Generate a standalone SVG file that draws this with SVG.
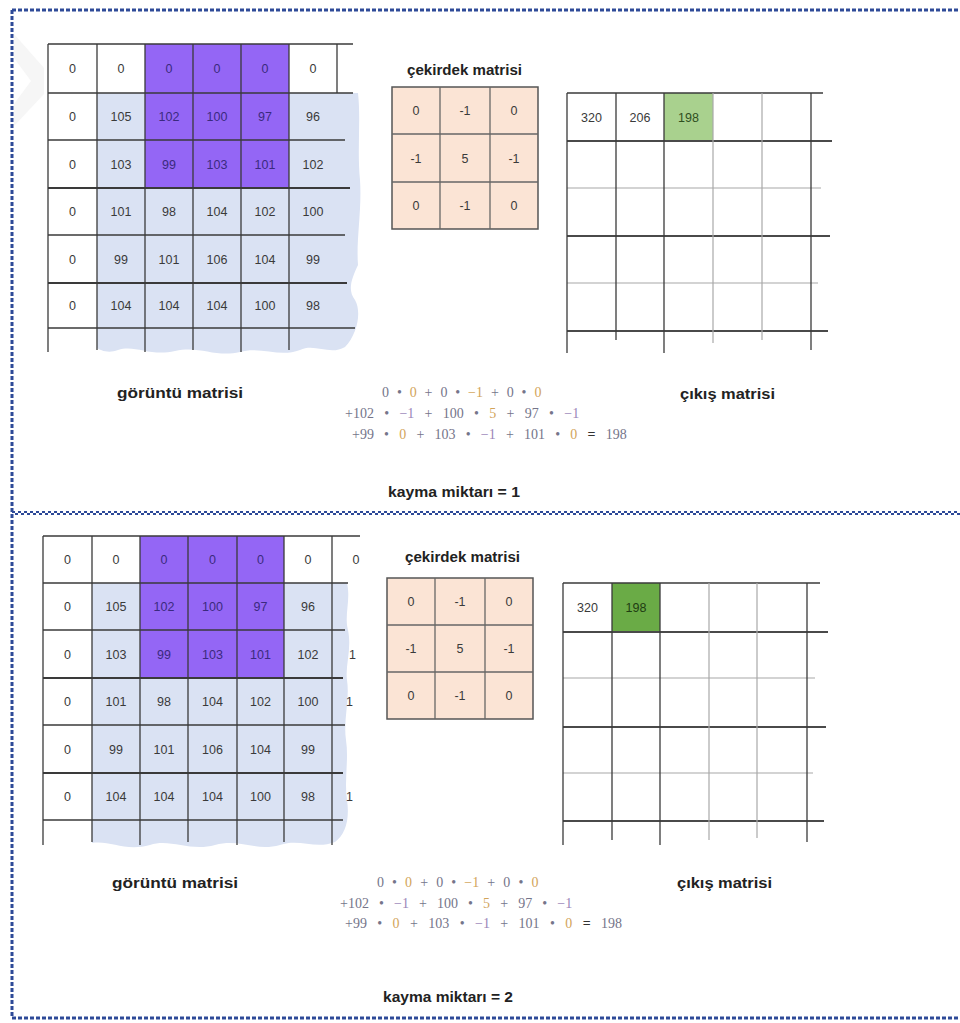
<svg xmlns="http://www.w3.org/2000/svg" width="960" height="1023" viewBox="0 0 960 1023">
<style>
.n{font-family:"Liberation Sans",Arial,sans-serif;font-size:12.5px;fill:#3a3a3a;text-anchor:middle}
.np{font-family:"Liberation Sans",Arial,sans-serif;font-size:12.5px;fill:#3b2a7e;text-anchor:middle}
.lbl{font-family:"Liberation Sans",Arial,sans-serif;font-size:14px;font-weight:bold;fill:#222}
.f{font-family:"Liberation Serif","Times New Roman",serif;font-size:14px;fill:#75758a}
.k{fill:#d2a45a}
.m{fill:#9a86b8}
.eq{fill:#333;font-weight:bold}
.g{stroke:#3a3a3a;stroke-width:1.3;fill:none}
.gl{stroke:#a8a8a8;stroke-width:1.2;fill:none}
.gt{stroke:#4a4a4a;stroke-width:2;fill:none}
.dot{stroke:#2e4a98;stroke-width:3;stroke-dasharray:4 2;fill:none}
.dw{stroke:#2e4a98;stroke-width:2;stroke-dasharray:3 3;fill:none}
</style>
<defs>
<clipPath id="cl"><rect x="330" y="500" width="26" height="400"/></clipPath>
</defs>
<rect width="960" height="1023" fill="#fff"/>
<polygon points="14,34 44,68 44,94 14,126 14,104 31,81 14,58" fill="#f6f6f6"/>

<!-- borders -->
<g id="border">
<line class="dot" x1="12" y1="10" x2="960" y2="10"/>
<line class="dot" x1="12" y1="10" x2="12" y2="1018"/>
<line class="dot" x1="12" y1="1018" x2="960" y2="1018"/>
<line class="dw" x1="12" y1="512" x2="960" y2="512"/>
<line class="dw" x1="15" y1="514" x2="960" y2="514"/>
</g>

<!-- TOP PANEL -->
<g id="image-matrix-1">
<path d="M97,93 H358 C361,120 357,150 360,180 C362,210 356,240 358,265 C352,278 347,290 355,300 C362,312 357,335 345,347 C330,356 315,343 300,350 C280,358 260,346 240,352 C215,358 200,345 175,351 C150,357 135,344 118,350 C108,354 100,350 97,348 Z" fill="#dae2f3"/>
<rect x="145" y="44" width="144" height="144" fill="#9466f5"/>
<g class="g">
<line x1="48" y1="44" x2="353" y2="44"/>
<line x1="48" y1="93" x2="353" y2="93"/>
<line x1="48" y1="140" x2="345" y2="140"/>
<line x1="48" y1="188" x2="350" y2="188" style="stroke-width:1.8"/>
<line x1="48" y1="235" x2="345" y2="235"/>
<line x1="48" y1="283" x2="347" y2="283" style="stroke-width:1.8"/>
<line x1="48" y1="328" x2="355" y2="328"/>
<line x1="48" y1="44" x2="48" y2="352"/>
<line x1="97" y1="44" x2="97" y2="350"/>
<line x1="145" y1="44" x2="145" y2="352"/>
<line x1="193" y1="44" x2="193" y2="350"/>
<line x1="241" y1="44" x2="241" y2="352"/>
<line x1="289" y1="44" x2="289" y2="350"/>
<line x1="337" y1="44" x2="337" y2="93"/>
</g>
<g>
<text class="n" x="72.5" y="73">0</text><text class="n" x="121" y="73">0</text><text class="np" x="169" y="73">0</text><text class="np" x="217" y="73">0</text><text class="np" x="265" y="73">0</text><text class="n" x="313" y="73">0</text>
<text class="n" x="72.5" y="121">0</text><text class="n" x="121" y="121">105</text><text class="np" x="169" y="121">102</text><text class="np" x="217" y="121">100</text><text class="np" x="265" y="121">97</text><text class="n" x="313" y="121">96</text>
<text class="n" x="72.5" y="168.5">0</text><text class="n" x="121" y="168.5">103</text><text class="np" x="169" y="168.5">99</text><text class="np" x="217" y="168.5">103</text><text class="np" x="265" y="168.5">101</text><text class="n" x="313" y="168.5">102</text>
<text class="n" x="72.5" y="216">0</text><text class="n" x="121" y="216">101</text><text class="n" x="169" y="216">98</text><text class="n" x="217" y="216">104</text><text class="n" x="265" y="216">102</text><text class="n" x="313" y="216">100</text>
<text class="n" x="72.5" y="263.5">0</text><text class="n" x="121" y="263.5">99</text><text class="n" x="169" y="263.5">101</text><text class="n" x="217" y="263.5">106</text><text class="n" x="265" y="263.5">104</text><text class="n" x="313" y="263.5">99</text>
<text class="n" x="72.5" y="310">0</text><text class="n" x="121" y="310">104</text><text class="n" x="169" y="310">104</text><text class="n" x="217" y="310">104</text><text class="n" x="265" y="310">100</text><text class="n" x="313" y="310">98</text>
</g>
<text class="lbl" x="117" y="398" textLength="126" lengthAdjust="spacingAndGlyphs">görüntü matrisi</text>
</g>

<g id="kernel-1">
<text class="lbl" x="407" y="75" textLength="115" lengthAdjust="spacingAndGlyphs">çekirdek matrisi</text>
<rect x="392" y="87" width="146" height="142" fill="#fbe4d5" stroke="#555" stroke-width="1.5"/>
<g stroke="#666" stroke-width="1.3">
<line x1="440" y1="87" x2="440" y2="229"/><line x1="490" y1="87" x2="490" y2="229"/>
<line x1="392" y1="134" x2="538" y2="134"/><line x1="392" y1="182" x2="538" y2="182"/>
</g>
<text class="n" x="416" y="115">0</text><text class="n" x="465" y="115">-1</text><text class="n" x="514" y="115">0</text>
<text class="n" x="416" y="162.5">-1</text><text class="n" x="465" y="162.5">5</text><text class="n" x="514" y="162.5">-1</text>
<text class="n" x="416" y="210">0</text><text class="n" x="465" y="210">-1</text><text class="n" x="514" y="210">0</text>
</g>

<g id="output-matrix-1">
<rect x="664" y="93" width="49" height="48" fill="#a9d18e"/>
<line class="g" x1="567" y1="93" x2="823" y2="93"/>
<line class="gt" x1="567" y1="141" x2="832" y2="141"/>
<line class="gl" x1="567" y1="188" x2="821" y2="188"/>
<line class="gt" x1="567" y1="236" x2="830" y2="236"/>
<line class="gl" x1="567" y1="283" x2="818" y2="283"/>
<line class="gt" x1="567" y1="331" x2="828" y2="331"/>
<line class="g" x1="567" y1="93" x2="567" y2="353"/>
<line class="g" x1="616" y1="93" x2="616" y2="340"/>
<line class="g" x1="664" y1="93" x2="664" y2="353"/>
<line class="gl" x1="713" y1="93" x2="713" y2="343"/>
<line class="gl" x1="762" y1="93" x2="762" y2="340"/>
<line class="g" x1="811" y1="93" x2="811" y2="350"/>
<text class="n" x="591.5" y="121.5">320</text><text class="n" x="640" y="121.5">206</text><text class="n" x="688.5" y="121.5" style="fill:#2f4f1f">198</text>
<text class="lbl" x="680" y="399" textLength="95" lengthAdjust="spacingAndGlyphs">çıkış matrisi</text>
</g>

<g id="formula-1">
<text class="f" x="382" y="397" style="word-spacing:4.4px">0 • <tspan class="k">0</tspan> + 0 • <tspan class="k">−1</tspan> + 0 • <tspan class="k">0</tspan></text>
<text class="f" x="345" y="418" style="word-spacing:6.8px">+102 • <tspan class="m">−1</tspan> + 100 • <tspan class="k">5</tspan> + 97 • <tspan class="m">−1</tspan></text>
<text class="f" x="352" y="439" style="word-spacing:6.7px">+99 • <tspan class="k">0</tspan> + 103 • <tspan class="m">−1</tspan> + 101 • <tspan class="k">0</tspan> <tspan class="eq">=</tspan> 198</text>
</g>
<text id="stride-1" class="lbl" x="388" y="497" textLength="132" lengthAdjust="spacingAndGlyphs">kayma miktarı = 1</text>

<!-- BOTTOM PANEL -->
<g id="image-matrix-2">
<path d="M92,583 H347 C351,600 344,615 348,630 C352,650 345,665 347,680 C350,700 343,720 346,740 C349,760 344,780 347,800 C350,820 345,835 335,842 C315,850 300,838 280,845 C255,852 240,838 215,845 C190,852 170,838 150,845 C125,852 110,840 92,843 Z" fill="#dae2f3"/>
<rect x="140" y="536" width="144" height="142" fill="#9466f5"/>
<g class="g">
<line x1="43" y1="536" x2="360" y2="536"/>
<line x1="43" y1="583" x2="348" y2="583"/>
<line x1="43" y1="630" x2="345" y2="630"/>
<line x1="43" y1="678" x2="343" y2="678" style="stroke-width:1.8"/>
<line x1="43" y1="725" x2="345" y2="725"/>
<line x1="43" y1="773" x2="343" y2="773" style="stroke-width:1.8"/>
<line x1="43" y1="820" x2="343" y2="820"/>
<line x1="43" y1="536" x2="43" y2="845"/>
<line x1="92" y1="536" x2="92" y2="842"/>
<line x1="140" y1="536" x2="140" y2="845"/>
<line x1="188" y1="536" x2="188" y2="842"/>
<line x1="237" y1="536" x2="237" y2="845"/>
<line x1="284" y1="536" x2="284" y2="842"/>
<line x1="332" y1="536" x2="332" y2="845"/>
</g>
<g>
<text class="n" x="67.5" y="564">0</text><text class="n" x="116" y="564">0</text><text class="np" x="164" y="564">0</text><text class="np" x="212.5" y="564">0</text><text class="np" x="260.5" y="564">0</text><text class="n" x="308" y="564">0</text><text class="n" x="356" y="564">0</text>
<text class="n" x="67.5" y="611">0</text><text class="n" x="116" y="611">105</text><text class="np" x="164" y="611">102</text><text class="np" x="212.5" y="611">100</text><text class="np" x="260.5" y="611">97</text><text class="n" x="308" y="611">96</text>
<text class="n" x="67.5" y="658.5">0</text><text class="n" x="116" y="658.5">103</text><text class="np" x="164" y="658.5">99</text><text class="np" x="212.5" y="658.5">103</text><text class="np" x="260.5" y="658.5">101</text><text class="n" x="308" y="658.5">102</text>
<text class="n" x="67.5" y="706">0</text><text class="n" x="116" y="706">101</text><text class="n" x="164" y="706">98</text><text class="n" x="212.5" y="706">104</text><text class="n" x="260.5" y="706">102</text><text class="n" x="308" y="706">100</text>
<text class="n" x="67.5" y="753.5">0</text><text class="n" x="116" y="753.5">99</text><text class="n" x="164" y="753.5">101</text><text class="n" x="212.5" y="753.5">106</text><text class="n" x="260.5" y="753.5">104</text><text class="n" x="308" y="753.5">99</text>
<text class="n" x="67.5" y="801">0</text><text class="n" x="116" y="801">104</text><text class="n" x="164" y="801">104</text><text class="n" x="212.5" y="801">104</text><text class="n" x="260.5" y="801">100</text><text class="n" x="308" y="801">98</text>
<g clip-path="url(#cl)">
<text class="n" x="349" y="658.5" style="text-anchor:start">10</text>
<text class="n" x="346" y="706" style="text-anchor:start">1</text>
<text class="n" x="346" y="801" style="text-anchor:start">1</text>
</g>
</g>
<text class="lbl" x="112" y="888" textLength="126" lengthAdjust="spacingAndGlyphs">görüntü matrisi</text>
</g>

<g id="kernel-2">
<text class="lbl" x="405" y="562" textLength="115" lengthAdjust="spacingAndGlyphs">çekirdek matrisi</text>
<rect x="387" y="578" width="146" height="141" fill="#fbe4d5" stroke="#555" stroke-width="1.5"/>
<g stroke="#666" stroke-width="1.3">
<line x1="435" y1="578" x2="435" y2="719"/><line x1="485" y1="578" x2="485" y2="719"/>
<line x1="387" y1="625" x2="533" y2="625"/><line x1="387" y1="672" x2="533" y2="672"/>
</g>
<text class="n" x="411" y="606">0</text><text class="n" x="460" y="606">-1</text><text class="n" x="509" y="606">0</text>
<text class="n" x="411" y="653">-1</text><text class="n" x="460" y="653">5</text><text class="n" x="509" y="653">-1</text>
<text class="n" x="411" y="700">0</text><text class="n" x="460" y="700">-1</text><text class="n" x="509" y="700">0</text>
</g>

<g id="output-matrix-2">
<rect x="612" y="583" width="48" height="49" fill="#6aab46"/>
<line class="g" x1="563" y1="583" x2="820" y2="583"/>
<line class="gt" x1="563" y1="632" x2="828" y2="632"/>
<line class="gl" x1="563" y1="678" x2="815" y2="678"/>
<line class="gt" x1="563" y1="727" x2="826" y2="727"/>
<line class="gl" x1="563" y1="773" x2="813" y2="773"/>
<line class="gt" x1="563" y1="821" x2="824" y2="821"/>
<line class="g" x1="563" y1="583" x2="563" y2="845"/>
<line class="g" x1="612" y1="583" x2="612" y2="840"/>
<line class="g" x1="660" y1="583" x2="660" y2="845"/>
<line class="gl" x1="709" y1="583" x2="709" y2="840"/>
<line class="gl" x1="757" y1="583" x2="757" y2="838"/>
<line class="g" x1="807" y1="583" x2="807" y2="842"/>
<text class="n" x="587.5" y="612">320</text><text class="n" x="636" y="612" style="fill:#1f3d12">198</text>
<text class="lbl" x="677" y="888" textLength="95" lengthAdjust="spacingAndGlyphs">çıkış matrisi</text>
</g>

<g id="formula-2">
<text class="f" x="377" y="887" style="word-spacing:4.6px">0 • <tspan class="k">0</tspan> + 0 • <tspan class="k">−1</tspan> + 0 • <tspan class="k">0</tspan></text>
<text class="f" x="340" y="908" style="word-spacing:6.6px">+102 • <tspan class="m">−1</tspan> + 100 • <tspan class="k">5</tspan> + 97 • <tspan class="m">−1</tspan></text>
<text class="f" x="345" y="928" style="word-spacing:6.9px">+99 • <tspan class="k">0</tspan> + 103 • <tspan class="m">−1</tspan> + 101 • <tspan class="k">0</tspan> <tspan class="eq">=</tspan> 198</text>
</g>
<text id="stride-2" class="lbl" x="383" y="1002" textLength="130" lengthAdjust="spacingAndGlyphs">kayma miktarı = 2</text>
</svg>
